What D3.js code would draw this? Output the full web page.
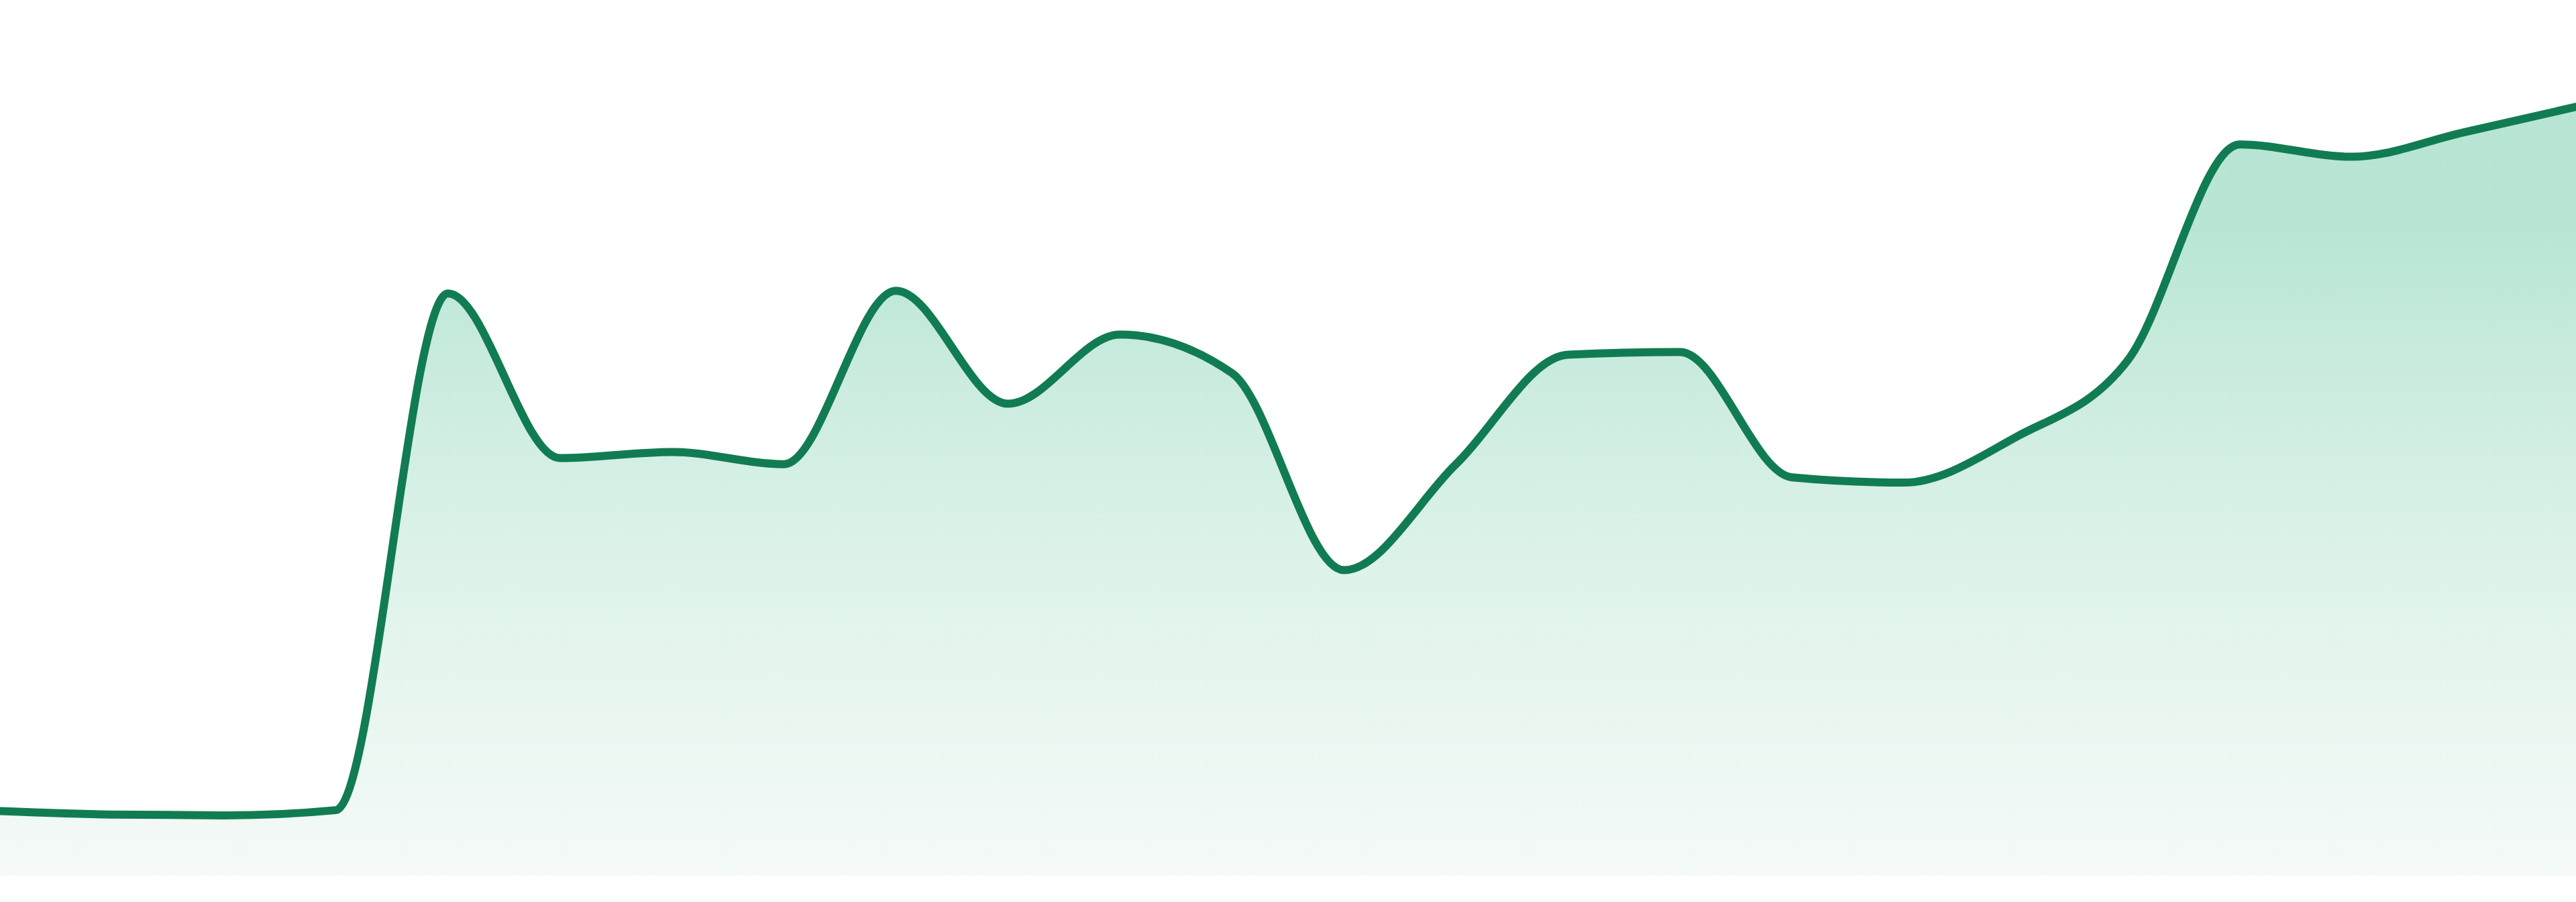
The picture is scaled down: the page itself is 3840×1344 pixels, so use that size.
<!DOCTYPE html>
<html>
<head>
<meta charset="utf-8">
<script src="https://cdn.jsdelivr.net/npm/d3@7"></script>
<style>
  html, body { margin: 0; padding: 0; background: #ffffff; }
  svg { display: block; }
</style>
</head>
<body>
<div id="chart"></div>
<script>
// Data
const categories = d3.range(24); // 24 evenly spaced periods
const values = [7.4, 7.0, 6.9, 7.5, 66.5, 47.7, 48.4, 47.0, 66.8, 53.9, 61.8, 57.4,
                34.9, 47.0, 59.5, 59.8, 45.5, 44.9, 50.1, 58.9, 83.5, 82.1, 84.9, 87.8];
const yDomain = [0, 100];

const W = 3840, H = 1344;
const margin = { top: 0, right: 0, bottom: 39, left: 0 };
const innerH = H - margin.bottom;

const svg = d3.select("#chart").append("svg")
  .attr("width", W).attr("height", H);

const x = d3.scaleLinear()
  .domain([0, categories.length - 1])
  .range([margin.left, W - margin.right]);
const y = d3.scaleLinear()
  .domain(yDomain)
  .range([innerH, 0]);

const data = categories.map((c, i) => ({ c, v: values[i] }));

const defs = svg.append("defs");
const grad = defs.append("linearGradient")
  .attr("id", "areaGrad")
  .attr("gradientUnits", "userSpaceOnUse")
  .attr("x1", 0).attr("x2", 0)
  .attr("y1", y(d3.max(values))).attr("y2", innerH);
const stops = [
  [0, "#b8e5d3"], [0.16, "#b9e6d4"], [0.43, "#d1eee2"],
  [0.65, "#e1f4eb"], [1, "#f5faf8"]
];
stops.forEach(([o, c]) => grad.append("stop").attr("offset", o).attr("stop-color", c));

const area = d3.area()
  .x(d => x(d.c))
  .y0(innerH)
  .y1(d => y(d.v))
  .curve(d3.curveMonotoneX);

const line = d3.line()
  .x(d => x(d.c))
  .y(d => y(d.v))
  .curve(d3.curveMonotoneX);

svg.append("path")
  .datum(data)
  .attr("d", area)
  .attr("fill", "url(#areaGrad)");

svg.append("path")
  .datum(data)
  .attr("d", line)
  .attr("fill", "none")
  .attr("stroke", "#117c52")
  .attr("stroke-width", 12)
  .attr("stroke-linejoin", "round")
  .attr("stroke-linecap", "round");
</script>
</body>
</html>
